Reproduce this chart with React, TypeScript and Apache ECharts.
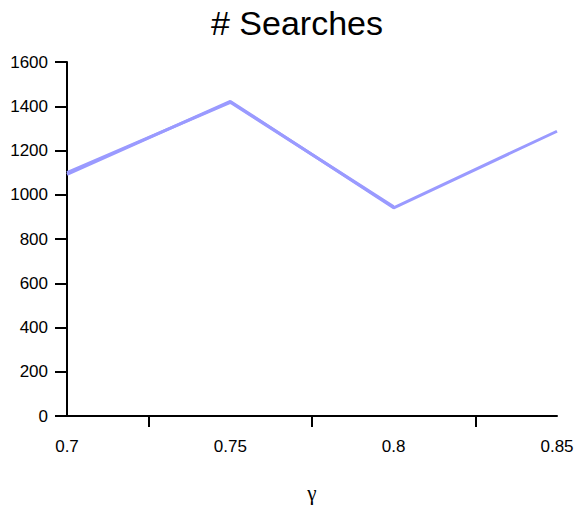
import React, { useEffect, useRef } from "react";
import * as echarts from "echarts";

// γ values along the x axis and the number of searches at each
const gammas = [0.7, 0.75, 0.8, 0.85];
const searchesRunA = [1092, 1422, 941, 1287];
const searchesRunB = [1100, 1418, 946, null];

const yTicks = [0, 200, 400, 600, 800, 1000, 1200, 1400, 1600];

const LINE_COLOR = "#9a9aff";
const FONT = "Liberation Sans, Arial, sans-serif";

export default function App() {
  const ref = useRef<HTMLDivElement>(null);

  useEffect(() => {
    if (!ref.current) return;
    const chart = echarts.init(ref.current, undefined, { renderer: "svg" });
    const toPairs = (vals: (number | null)[]) =>
      gammas.map((g, i) => [g, vals[i]]).filter((p) => p[1] !== null);

    chart.setOption({
      animation: false,
      backgroundColor: "#ffffff",
      title: {
        text: "# Searches",
        left: 206,
        top: 1,
        textStyle: { fontFamily: FONT, fontSize: 34, fontWeight: "normal", color: "#000" },
      },
      grid: {
        left: 67,
        right: 19,
        top: 62,
        bottom: 90,
        containLabel: false,
        outerBoundsMode: "none",
      },
      xAxis: {
        type: "value",
        min: 0.7,
        max: 0.85,
        interval: 0.05,
        name: "γ",
        nameLocation: "middle",
        nameGap: 66,
        nameTextStyle: { fontFamily: "Liberation Serif, serif", fontSize: 21, color: "#000" },
        axisLine: { show: true, onZero: false, lineStyle: { color: "#000", width: 2 } },
        axisTick: { show: false },
        minorTick: { show: true, splitNumber: 2, length: 11, lineStyle: { color: "#000", width: 2 } },
        splitLine: { show: false },
        minorSplitLine: { show: false },
        axisLabel: {
          margin: 22,
          fontFamily: FONT,
          fontSize: 17,
          color: "#000",
          formatter: (v: number) => String(Math.round(v * 100) / 100),
        },
      },
      yAxis: {
        type: "value",
        min: yTicks[0],
        max: yTicks[yTicks.length - 1],
        interval: yTicks[1] - yTicks[0],
        axisLine: { show: true, lineStyle: { color: "#000", width: 2 } },
        axisTick: { show: true, length: 12, lineStyle: { color: "#000", width: 2 } },
        splitLine: { show: false },
        axisLabel: {
          margin: 19,
          fontFamily: FONT,
          fontSize: 17,
          color: "#000",
          formatter: (v: number) => String(v),
        },
      },
      series: [
        {
          type: "line",
          data: toPairs(searchesRunA),
          showSymbol: false,
          lineStyle: { color: LINE_COLOR, width: 3 },
          itemStyle: { color: LINE_COLOR },
        },
        {
          type: "line",
          data: toPairs(searchesRunB),
          showSymbol: false,
          lineStyle: { color: LINE_COLOR, width: 3 },
          itemStyle: { color: LINE_COLOR },
        },
      ],
    });
    return () => chart.dispose();
  }, []);

  return (
    <div
      ref={ref}
      style={{ position: "fixed", left: 0, top: 0, width: 576, height: 506 }}
    />
  );
}
